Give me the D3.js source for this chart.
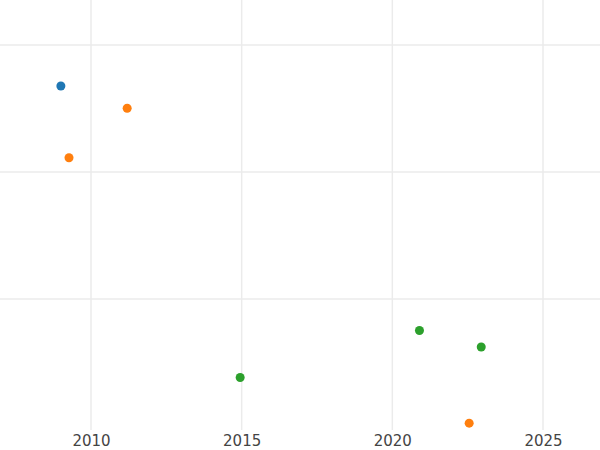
<!DOCTYPE html>
<html>
<head>
<meta charset="utf-8">
<script src="https://cdn.jsdelivr.net/npm/d3@7"></script>
<style>body{margin:0;background:#fff}</style>
</head>
<body>
<div class="chart"></div>
<script>
const years = [2009.0, 2011.2, 2009.27, 2014.95, 2020.9, 2022.95, 2022.55]
const values = [2.685, 2.51, 2.12, 0.39, 0.76, 0.63, 0.03]
const groups = ['a', 'b', 'b', 'c', 'c', 'c', 'b']
const xTicks = [2010, 2015, 2020, 2025]
const yTicks = [1, 2, 3]

const width = 600, height = 450
const plotBottom = 430

const svg = d3.select('.chart').append('svg')
    .attr('width', width)
    .attr('height', height)

const xScale = d3.scaleLinear().domain([2010, 2025]).range([91, 543])
const yScale = d3.scaleLinear().domain([0, 3]).range([427, 46])
const color = d3.scaleOrdinal().domain(['a', 'b', 'c']).range(['#1f77b4', '#ff7f0e', '#2ca02c'])

// grid
svg.append('g').selectAll('line').data(yTicks).enter().append('line')
    .attr('x1', 0).attr('x2', width)
    .attr('y1', d => yScale(d) - 1).attr('y2', d => yScale(d) - 1)
    .style('stroke', '#ebebeb').style('stroke-width', 1.5)

svg.append('g').selectAll('line').data(xTicks).enter().append('line')
    .attr('x1', d => xScale(d)).attr('x2', d => xScale(d))
    .attr('y1', 0).attr('y2', plotBottom)
    .style('stroke', '#ebebeb').style('stroke-width', 1.5)

// x axis labels
const xAxis = d3.axisBottom(xScale).tickValues(xTicks).tickFormat(d3.format('d')).tickSize(0).tickPadding(5)
const ax = svg.append('g')
    .attr('transform', `translate(0, ${plotBottom})`)
    .attr('font-family', 'DejaVu Sans')
    .call(xAxis)
ax.select('.domain').remove()
ax.selectAll('text')
    .attr('font-family', 'DejaVu Sans')
    .style('font-size', '15px')
    .style('fill', '#444')

svg.selectAll('circle')
    .data(years)
    .enter()
    .append('circle')
    .attr('cx', d => xScale(d))
    .attr('cy', (d, i) => yScale(values[i]))
    .attr('r', 4.5)
    .style('fill', (d, i) => color(groups[i]))
</script>
</body>
</html>
